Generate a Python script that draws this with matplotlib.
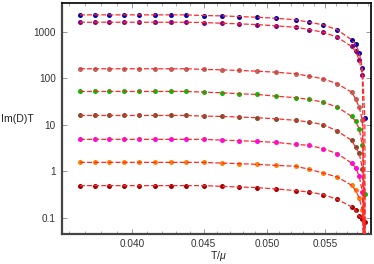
import numpy as np
import matplotlib
matplotlib.use('Agg')
import matplotlib.pyplot as plt
from matplotlib.ticker import FixedLocator, NullFormatter, FixedFormatter

plt.rcParams['font.family'] = ['Liberation Sans', 'DejaVu Sans']
plt.rcParams['mathtext.fontset'] = 'custom'
plt.rcParams['mathtext.it'] = 'Liberation Sans:italic'
plt.rcParams['mathtext.rm'] = 'Liberation Sans'

# temperature grid T/mu of the numerical points
t_mu = [0.03668, 0.03760, 0.03850, 0.03944, 0.04045, 0.04152, 0.04261, 0.04370,
        0.04502, 0.04636, 0.04772, 0.04916, 0.05071, 0.05241, 0.05358, 0.05483,
        0.05613, 0.05747, 0.05784, 0.05819, 0.05850, 0.05874]
t_c = 0.05878  # where the fitted curves drop

nan = np.nan
blue = [2297, 2297, 2297, 2297, 2297, 2297, 2297, 2297, 2219, 2188, 2113, 2042,
        1941, 1795, 1595, 1403, 1096, 669, 531, 357, 166, 13.7]
purple = [1595, 1595, 1595, 1595, 1595, 1595, 1595, 1595, 1571, 1518, 1473, 1423,
          1334, 1245, 1111, 973, 760, 481, 381, 249, 115, nan]
rosy = [160, 160, 160, 160, 160, 160, 160, 160, 154.5, 152, 147, 142,
        135, 125, 111, 97.5, 76.2, 50.3, 36.4, 24.0, 12.5, nan]
green = [52.1, 52.1, 52.1, 52.1, 52.1, 52.1, 52.1, 52.1, 50.4, 48.9, 46.5, 45.0,
         41.3, 38.2, 35.1, 30.7, 24.0, 15.2, 11.9, 8.27, 3.63, 0.323]
brown = [15.9, 15.9, 15.9, 15.9, 15.9, 15.9, 15.9, 15.9, 15.4, 15.2, 14.7, 14.2,
         13.5, 12.5, 11.5, 10.1, 7.35, 4.65, 3.34, 2.48, 1.15, nan]
magenta = [4.88, 4.88, 4.88, 4.88, 4.88, 4.88, 4.88, 4.88, 4.88, 4.71, 4.57, 4.42,
           4.20, 3.81, 3.63, 3.08, 2.41, 1.51, 1.21, 0.797, 0.362, nan]
orange = [1.567, 1.567, 1.567, 1.567, 1.567, 1.567, 1.567, 1.567, 1.567, 1.51, 1.47, 1.42,
          1.35, 1.29, 1.11, 0.924, 0.759, 0.504, 0.393, 0.269, 0.147, nan]
darkred = [0.496, 0.496, 0.496, 0.496, 0.496, 0.496, 0.496, 0.496, 0.496, 0.479, 0.463, 0.450,
           0.420, 0.388, 0.362, 0.318, 0.252, 0.173, 0.147, 0.109, 0.0973, 0.0823]

series = [blue, purple, rosy, green, brown, magenta, orange, darkred]
colors = ['#0000B4', '#800080', '#B8655E', '#00BE00', '#7A4E2C', '#FF00FF', '#FF8000', '#A00000']

fig = plt.figure(figsize=(3.74, 2.64), dpi=100)
ax = fig.add_axes([62 / 374, 30 / 264, 308.5 / 374, 231 / 264])

x = np.array(t_mu)
for ys, c in zip(series, colors):
    ys = np.array(ys, dtype=float)
    ok = ~np.isnan(ys)
    ax.plot(x[ok], ys[ok], 'o', color=c, ms=3.6, mew=0, zorder=2)
    lx = np.append(x[ok], t_c)
    ly = np.append(ys[ok], 1e-3)
    ax.plot(lx, ly, color='#FF2A2A', lw=0.9, dashes=(4, 1.7), zorder=3)

ax.set_xscale('log')
ax.set_yscale('log')
ax.set_xlim(0.03561, 0.05929)
ax.set_ylim(0.0454, 4130)

xmaj = [0.040, 0.045, 0.050, 0.055]
ax.xaxis.set_major_locator(FixedLocator(xmaj))
ax.xaxis.set_major_formatter(FixedFormatter(['0.040', '0.045', '0.050', '0.055']))
ax.xaxis.set_minor_locator(FixedLocator(np.arange(0.036, 0.0595, 0.001)))
ax.xaxis.set_minor_formatter(NullFormatter())
ymaj = [0.1, 1, 10, 100, 1000]
ax.yaxis.set_major_locator(FixedLocator(ymaj))
ax.yaxis.set_major_formatter(FixedFormatter(['0.1', '1', '10', '100', '1000']))
ax.yaxis.set_minor_locator(FixedLocator([]))

ax.tick_params(which='both', direction='in', top=True, right=True, colors='#888888',
               labelcolor='#333333', labelsize=7.2)
ax.tick_params(which='major', length=3.5, width=0.6)
ax.tick_params(which='minor', length=2, width=0.5)
ax.tick_params(axis='x', pad=3.5)
ax.tick_params(axis='y', pad=4.5)

for side in ['left', 'bottom']:
    ax.spines[side].set_color('#444444')
    ax.spines[side].set_linewidth(1.6)
for side in ['top', 'right']:
    ax.spines[side].set_color('#111111')
    ax.spines[side].set_linewidth(1.3)

fig.text(1 / 374, 1 - 118.5 / 264, 'Im(D)T', fontsize=7.6, color='#222222', ha='left', va='center')
fig.text(218 / 374, 1 - 256 / 264, 'T/$\\mu$', fontsize=7.6, color='#222222', ha='center', va='center')

fig.savefig('out.png', dpi=100)
